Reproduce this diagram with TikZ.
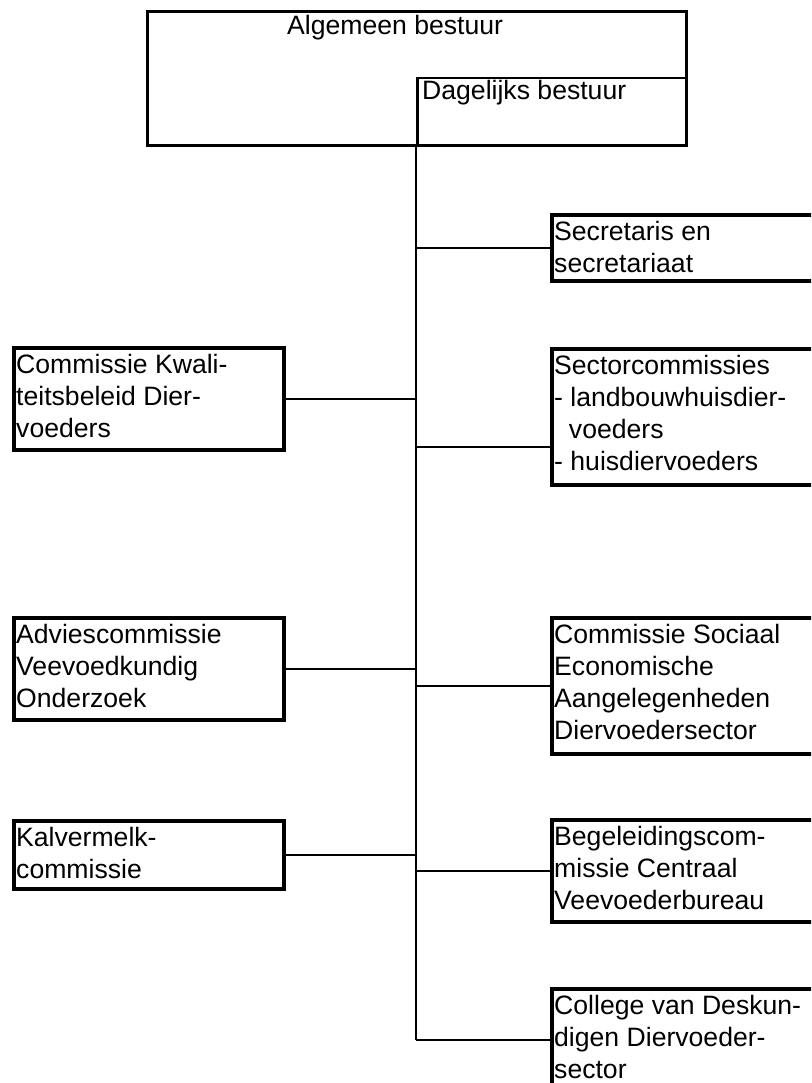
\documentclass[tikz,border=0pt]{standalone}
\usepackage{fontspec}
\setmainfont{Liberation Sans}
\begin{document}
\begin{tikzpicture}[x=1pt,y=-1pt,
  box/.style={draw, line width=3.8pt, rectangle, inner sep=0pt, anchor=north west},
  inbox/.style={draw, line width=2.5pt, rectangle, inner sep=0pt, anchor=north west},
  txt/.style={inner sep=0pt, align=left, anchor=north west, font=\fontsize{26.6}{32}\selectfont},
  conn/.style={line width=2.3pt}]
\clip (0,0) rectangle (811,1083);
\fill[white] (0,0) rectangle (811,1083);
% top boxes
\node[box, line width=3.3pt, minimum width=539pt, minimum height=134pt] (ab) at (146,10) {};
\node[inbox, minimum width=269pt, minimum height=67pt] (db) at (416,77) {};
\node[txt, anchor=base west] (abt) at (287,35) {Algemeen bestuur};
\node[txt, anchor=base west] (dbt) at (422,100) {Dagelijks bestuur};
% left boxes
\node[box, minimum width=270pt, minimum height=102pt] (kw) at (12,346) {};
\node[box, minimum width=270pt, minimum height=102pt] (av) at (12,616) {};
\node[box, minimum width=270pt, minimum height=68pt] (kv) at (12,819) {};
% right boxes
\node[box, minimum width=300pt, minimum height=66pt] (se) at (550,213) {};
\node[box, minimum width=300pt, minimum height=136pt] (sc) at (550,347) {};
\node[box, minimum width=300pt, minimum height=136pt] (so) at (550,616) {};
\node[box, minimum width=300pt, minimum height=102pt] (bg) at (550,818) {};
\node[box, minimum width=300pt, minimum height=140pt] (co) at (550,987) {};
% texts
\node[txt] (kwt) at ([shift={(4,4.6)}]kw.north west) {\strut Commissie Kwali-\\teitsbeleid Dier-\\voeders};
\node[txt] (avt) at ([shift={(4,4.6)}]av.north west) {\strut Adviescommissie\\Veevoedkundig\\Onderzoek};
\node[txt] (kvt) at ([shift={(4,4.6)}]kv.north west) {\strut Kalvermelk-\\commissie};
\node[txt] (set) at ([shift={(4,4.6)}]se.north west) {\strut Secretaris en\\secretariaat};
\node[txt] (sct) at ([shift={(4,4.6)}]sc.north west) {\strut Sectorcommissies\\- landbouwhuisdier-\\\ \ voeders\\- huisdiervoeders};
\node[txt] (sot) at ([shift={(4,4.6)}]so.north west) {\strut Commissie Sociaal\\Economische\\Aangelegenheden\\Diervoedersector};
\node[txt] (bgt) at ([shift={(4,4.6)}]bg.north west) {\strut Begeleidingscom-\\missie Centraal\\Veevoederbureau};
\node[txt] (cot) at ([shift={(4,4.6)}]co.north west) {\strut College van Deskun-\\digen Diervoeder-\\sector};
% connectors
\coordinate (scc) at (550,447);
\coordinate (coc) at (550,1040);
\coordinate (bot) at (db.south west |- coc);
\draw[conn] (db.south west) -- (bot);
\draw[conn] (kw.east) -- (kw.east -| db.west);
\draw[conn] (av.east) -- (av.east -| db.west);
\draw[conn] (kv.east) -- (kv.east -| db.west);
\draw[conn] (se.west) -- (se.west -| db.west);
\draw[conn] (scc) -- (scc -| db.west);
\draw[conn] (so.west) -- (so.west -| db.west);
\draw[conn] (bg.west) -- (bg.west -| db.west);
\draw[conn] (coc) -- (bot);
\end{tikzpicture}
\end{document}
